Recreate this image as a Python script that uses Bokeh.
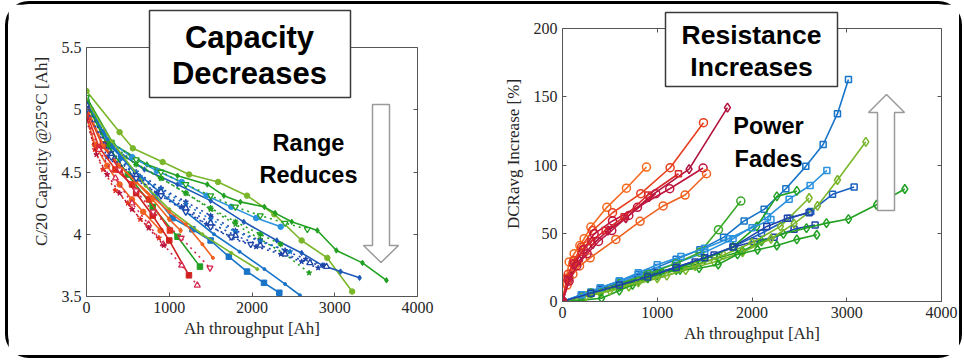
from bokeh.plotting import figure
from bokeh.models import (Range1d, FixedTicker, LinearAxis, CustomJSTickFormatter,
                          BoxAnnotation, PolyAnnotation, Label)
from bokeh.layouts import row
from bokeh.embed import file_html
from bokeh.resources import INLINE

# ---------------- data: capacity (left) ----------------
x_ticks = [0, 1000, 2000, 3000, 4000]
cap_ticks = [3.5, 4.0, 4.5, 5.0, 5.5]
dcr_ticks = [0, 50, 100, 150, 200]

cap01_x = [0, 400, 560, 920, 1240, 1590, 1940, 2270, 2600, 2910, 3210]
cap01_y = [5.15, 4.82, 4.69, 4.58, 4.48, 4.42, 4.31, 4.16, 3.95, 3.81, 3.54]
cap02_x = [0, 330, 730, 1100, 1460, 1660, 1860, 2150, 2280, 2480, 2790, 3020, 3335, 3625]
cap02_y = [5.10, 4.72, 4.56, 4.47, 4.40, 4.31, 4.26, 4.22, 4.17, 4.10, 4.03, 3.87, 3.77, 3.63]
cap03_x = [0, 300, 700, 1100, 1500, 1900, 2300, 2600, 2850, 3070, 3300]
cap03_y = [5.05, 4.70, 4.52, 4.40, 4.27, 4.10, 3.95, 3.85, 3.75, 3.70, 3.65]
cap04_x = [0, 300, 600, 900, 1200, 1500, 1800, 2100, 2400, 2690]
cap04_y = [5.05, 4.72, 4.57, 4.45, 4.33, 4.20, 4.08, 3.96, 3.84, 3.69]
cap05_x = [0, 250, 550, 850, 1150, 1450, 1750, 2050, 2347]
cap05_y = [5.08, 4.76, 4.62, 4.51, 4.42, 4.31, 4.22, 4.13, 4.06]
cap06_x = [0, 300, 600, 900, 1200, 1500, 1800, 2100, 2400, 2650, 2870]
cap06_y = [5.05, 4.66, 4.50, 4.37, 4.26, 4.15, 4.03, 3.95, 3.87, 3.80, 3.75]
cap07_x = [0, 250, 550, 850, 1150, 1450, 1750, 2050, 2350, 2600, 2800]
cap07_y = [5.02, 4.62, 4.46, 4.33, 4.22, 4.08, 3.97, 3.90, 3.84, 3.78, 3.73]
cap08_x = [0, 300, 600, 900, 1200, 1500, 1800, 2100, 2347]
cap08_y = [5.08, 4.70, 4.56, 4.45, 4.33, 4.21, 4.10, 4.00, 3.92]
cap09_x = [0, 300, 600, 900, 1200, 1500, 1800, 2100, 2400, 2669]
cap09_y = [5.10, 4.74, 4.60, 4.50, 4.40, 4.31, 4.22, 4.15, 4.09, 4.04]
cap10_x = [0, 300, 600, 900, 1200, 1500, 1800, 2100, 2460]
cap10_y = [5.05, 4.65, 4.48, 4.36, 4.24, 4.12, 4.02, 3.94, 3.86]
cap11_x = [0, 200, 420, 640, 830, 1040, 1280, 1500, 1720, 1940, 2145, 2330]
cap11_y = [5.05, 4.82, 4.62, 4.45, 4.30, 4.13, 4.04, 3.95, 3.82, 3.70, 3.61, 3.53]
cap12_x = [0, 300, 600, 900, 1200, 1540, 1850, 2150, 2400, 2580]
cap12_y = [5.05, 4.70, 4.50, 4.33, 4.18, 4.00, 3.86, 3.72, 3.60, 3.51]
cap13_x = [0, 300, 714, 1000, 1400, 1750, 2064]
cap13_y = [5.08, 4.75, 4.39, 4.20, 4.00, 3.85, 3.72]
cap14_x = [0, 250, 500, 800, 1100, 1371]
cap14_y = [5.05, 4.72, 4.48, 4.22, 3.98, 3.74]
cap15_x = [0, 200, 400, 600, 800, 1000, 1200, 1400, 1528]
cap15_y = [5.00, 4.70, 4.55, 4.42, 4.30, 4.18, 4.08, 3.92, 3.81]
cap16_x = [0, 100, 250, 400, 550, 685, 895]
cap16_y = [4.95, 4.72, 4.55, 4.40, 4.28, 4.18, 4.03]
cap17_x = [0, 150, 350, 550, 754, 1008]
cap17_y = [4.98, 4.70, 4.52, 4.40, 4.28, 4.03]
cap18_x = [0, 200, 400, 600, 800, 1000, 1238]
cap18_y = [5.00, 4.72, 4.52, 4.33, 4.15, 3.95, 3.67]
cap19_x = [0, 150, 350, 550, 750, 928, 1150, 1339]
cap19_y = [4.95, 4.68, 4.45, 4.25, 4.08, 3.92, 3.75, 3.59]
cap20_x = [0, 200, 400, 600, 806, 1145, 1492]
cap20_y = [5.00, 4.72, 4.52, 4.35, 4.18, 3.97, 3.73]
cap21_x = [0, 100, 200, 350, 500, 650, 875]
cap21_y = [4.95, 4.68, 4.52, 4.35, 4.25, 4.12, 3.97]
cap22_x = [0, 120, 250, 400, 550, 750, 935]
cap22_y = [4.92, 4.64, 4.48, 4.33, 4.20, 4.05, 3.91]
cap23_x = [0, 200, 400, 600, 800, 1000, 1137]
cap23_y = [5.02, 4.72, 4.55, 4.42, 4.28, 4.12, 4.03]
cap24_x = [0, 300, 600, 900, 1200, 1500, 1800, 2100, 2400, 2700, 2900]
cap24_y = [5.04, 4.64, 4.47, 4.34, 4.21, 4.09, 3.99, 3.91, 3.84, 3.77, 3.74]
cap25_x = [0, 300, 600, 900, 1200, 1500, 1750, 1985]
cap25_y = [5.00, 4.62, 4.45, 4.31, 4.18, 4.06, 3.98, 3.92]

# ---------------- data: resistance (right) ----------------
dcr01_x = [0, 42, 70, 123, 183, 228, 299, 468, 675, 886]
dcr01_y = [0, 17, 29, 35, 41, 46, 54.5, 69, 83, 98.5]
dcr02_x = [0, 60, 120, 200, 317, 528, 826, 1136, 1488]
dcr02_y = [0, 20, 30, 40, 52, 65, 79, 98, 131]
dcr03_x = [0, 80, 180, 320, 480, 668, 914, 1336, 1741]
dcr03_y = [0, 18, 30, 42, 52, 61, 76.5, 97, 142]
dcr04_x = [0, 60, 130, 220, 334, 528, 791, 1132, 1484]
dcr04_y = [0, 16, 28, 38, 49.6, 59, 69, 82.6, 97.8]
dcr05_x = [0, 50, 110, 180, 292, 563, 819, 1062, 1294, 1520]
dcr05_y = [0, 12, 20, 26, 32, 45.5, 58.7, 70, 78, 93.6]
dcr06_x = [0, 50, 110, 200, 300, 450, 650, 900, 1224]
dcr06_y = [0, 17, 28, 36, 44, 52, 62, 78, 93.6]
dcr07_x = [0, 70, 150, 260, 380, 520, 700, 985]
dcr07_y = [0, 15, 26, 35, 44, 52, 63, 79]
dcr08_x = [0, 200, 400, 600, 800, 1000, 1200, 1450, 1700, 1917, 2128, 2357, 2568, 2751, 2902, 3018]
dcr08_y = [0, 5, 10, 15, 20, 25, 31, 38, 47, 59, 67.5, 82.6, 99, 115, 137.6, 162.6]
dcr09_x = [0, 300, 600, 900, 1200, 1500, 1800, 2164, 2392, 2613, 2790]
dcr09_y = [0, 7, 14, 21, 28, 36, 46, 62, 75, 85, 96]
dcr10_x = [0, 300, 600, 900, 1200, 1500, 1800, 2100, 2400, 2620, 2850, 3078]
dcr10_y = [0, 6, 12, 19, 25, 32, 40, 50, 61, 66, 78.5, 83.8]
dcr11_x = [0, 200, 400, 600, 800, 1000, 1200, 1400, 1600, 1811, 2022, 2233, 2444, 2666]
dcr11_y = [0, 4, 9, 13, 17, 21, 25, 29, 34, 40, 44, 47, 53, 56]
dcr12_x = [0, 200, 400, 600, 800, 1000, 1200, 1400, 1650, 1900, 2100, 2332, 2575, 2786, 3018, 3314, 3613]
dcr12_y = [0, 3, 7, 11, 15, 19, 23, 27, 32, 37, 44, 49.6, 53.8, 57.4, 60.4, 70.9, 82.4]
dcr13_x = [0, 200, 400, 700, 1000, 1300, 1600, 1900, 2200, 2444, 2691, 2902, 3201]
dcr13_y = [0, 3, 6, 11, 17, 23, 29, 36, 46, 57, 70, 89, 117]
dcr14_x = [0, 200, 412, 600, 739, 900, 1057, 1241, 1442, 1643, 1847, 2058, 2262, 2473, 2684]
dcr14_y = [0, 1, 2.4, 8, 12.2, 17, 21, 23.2, 24.4, 27.1, 34.5, 37.9, 41, 45.5, 48.9]
dcr15_x = [0, 300, 600, 900, 1200, 1500, 1800, 2050, 2262, 2473]
dcr15_y = [0, 6, 12, 18, 24, 31, 40, 55, 77, 81]
dcr16_x = [0, 300, 600, 900, 1200, 1450, 1646, 1882]
dcr16_y = [0, 6, 13, 20, 28, 36, 52.6, 73.6]
dcr17_x = [0, 250, 500, 800, 1100, 1400, 1700, 2000, 2300, 2603]
dcr17_y = [0, 4, 8, 14, 19, 26, 34, 43, 55, 75.8]
dcr18_x = [0, 200, 400, 600, 800, 1000, 1250, 1500, 1750, 2000, 2200]
dcr18_y = [0, 5, 10, 15, 21, 27, 33, 39, 46, 54, 60]
dcr19_x = [0, 300, 600, 900, 1200, 1500, 1800, 2156, 2374, 2603]
dcr19_y = [0, 6, 12, 18, 25, 32, 40, 55, 61, 65]

# ---------------- styles ----------------
LG, DG = "#7AB62A", "#22A022"
BL, LB, DB = "#1874C8", "#2A92DE", "#1E44A8"
OR, RD, CR, PK = "#F0621E", "#E2321E", "#B8143C", "#D42A52"

cap_series = [
    (cap01_x, cap01_y, LG, "circle", "solid"),
    (cap02_x, cap02_y, DG, "diamond", "solid"),
    (cap03_x, cap03_y, "#1E5AB8", "diamond", "solid"),
    (cap04_x, cap04_y, DG, "star", "dotted"),
    (cap05_x, cap05_y, LB, "circle", "solid"),
    (cap06_x, cap06_y, DB, "star", "dotted"),
    (cap07_x, cap07_y, DB, "star", "dotted"),
    (cap08_x, cap08_y, DG, "asterisk", "dotted"),
    (cap09_x, cap09_y, DG, "inverted_triangle", "dotted"),
    (cap10_x, cap10_y, BL, "star", "dotted"),
    (cap11_x, cap11_y, BL, "square", "solid"),
    (cap12_x, cap12_y, BL, "dot", "solid"),
    (cap13_x, cap13_y, LG, "dot", "solid"),
    (cap14_x, cap14_y, DG, "square", "solid"),
    (cap15_x, cap15_y, OR, "dot", "solid"),
    (cap16_x, cap16_y, OR, "circle", "solid"),
    (cap17_x, cap17_y, RD, "square", "solid"),
    (cap18_x, cap18_y, "#D0201E", "square", "solid"),
    (cap19_x, cap19_y, PK, "triangle", "dotted"),
    (cap20_x, cap20_y, PK, "inverted_triangle", "dotted"),
    (cap21_x, cap21_y, RD, "star", "dotted"),
    (cap22_x, cap22_y, CR, "star", "dotted"),
    (cap23_x, cap23_y, OR, "diamond", "solid"),
    (cap24_x, cap24_y, DB, "triangle", "dotted"),
    (cap25_x, cap25_y, DB, "inverted_triangle", "dotted"),
]

dcr_series = [
    (dcr08_x, dcr08_y, BL, "square"),
    (dcr09_x, dcr09_y, LB, "square"),
    (dcr10_x, dcr10_y, "#1A60C0", "square"),
    (dcr11_x, dcr11_y, DB, "square"),
    (dcr12_x, dcr12_y, DG, "diamond"),
    (dcr13_x, dcr13_y, LG, "diamond"),
    (dcr14_x, dcr14_y, DG, "diamond"),
    (dcr15_x, dcr15_y, DG, "diamond"),
    (dcr16_x, dcr16_y, "#3AA82A", "circle"),
    (dcr17_x, dcr17_y, LG, "diamond"),
    (dcr18_x, dcr18_y, LB, "square"),
    (dcr19_x, dcr19_y, DB, "square"),
    (dcr01_x, dcr01_y, "#F46A1E", "circle"),
    (dcr02_x, dcr02_y, "#E8401E", "circle"),
    (dcr03_x, dcr03_y, "#B0103A", "diamond"),
    (dcr04_x, dcr04_y, "#C0143C", "circle"),
    (dcr05_x, dcr05_y, "#F0601E", "circle"),
    (dcr06_x, dcr06_y, "#D8282A", "square"),
    (dcr07_x, dcr07_y, "#C01840", "circle"),
]

SERIF = "Liberation Serif"
SANS = "Liberation Sans"
AXC = "#262626"
BOXC = "#555555"


def style(p, xt, yt, ybounds, xlabel, ylabel):
    p.outline_line_color = None
    p.xgrid.visible = False
    p.ygrid.visible = False
    fmt = CustomJSTickFormatter(code="return tick.toString();")
    blank = CustomJSTickFormatter(code="return '';")
    for ax in (p.xaxis[0], p.yaxis[0]):
        ax.major_label_text_font = SERIF
        ax.major_label_text_font_size = "16px"
        ax.major_label_text_color = AXC
        ax.axis_label_text_font = SERIF
        ax.axis_label_text_font_size = "17px"
        ax.axis_label_text_font_style = "normal"
        ax.axis_label_text_color = AXC
        ax.axis_line_color = BOXC
        ax.major_tick_line_color = BOXC
        ax.major_tick_in = 4
        ax.major_tick_out = 0
        ax.minor_tick_line_color = None
        ax.formatter = fmt
    p.xaxis[0].ticker = FixedTicker(ticks=xt)
    p.yaxis[0].ticker = FixedTicker(ticks=yt)
    p.yaxis[0].bounds = ybounds
    p.xaxis[0].axis_label = xlabel
    p.yaxis[0].axis_label = ylabel
    p.xaxis[0].major_label_standoff = 5
    p.yaxis[0].major_label_standoff = 5
    p.xaxis[0].axis_label_standoff = 3
    p.yaxis[0].axis_label_standoff = 8
    top = LinearAxis(ticker=FixedTicker(ticks=xt), formatter=blank,
                     major_label_text_font_size="1px", major_label_standoff=0,
                     axis_line_color=BOXC, major_tick_line_color=BOXC, major_tick_in=4,
                     major_tick_out=0, minor_tick_line_color=None, fixed_location=ybounds[1])
    p.add_layout(top, "above")
    right = LinearAxis(ticker=FixedTicker(ticks=yt), formatter=blank,
                       major_label_text_font_size="1px", major_label_standoff=0,
                       axis_line_color=BOXC, bounds=ybounds, major_tick_line_color=BOXC,
                       major_tick_in=4, major_tick_out=0, minor_tick_line_color=None)
    p.add_layout(right, "right")


# ---------------- left figure ----------------
# figure pixel geometry (figure top-left at page (8, 4))
L_LEFT, L_W, L_TOP, L_BOX_TOP, L_BOT = 78, 331, 2, 43, 292
cap_lo, cap_hi = 3.5, 5.5
cap_top = cap_hi + (L_BOX_TOP - L_TOP) * (cap_hi - cap_lo) / (L_BOT - L_BOX_TOP)

p1 = figure(frame_width=L_W, frame_height=L_BOT - L_TOP, min_border_left=L_LEFT,
            min_border_right=63, min_border_top=L_TOP, min_border_bottom=59,
            x_range=Range1d(0, 4000), y_range=Range1d(cap_lo, cap_top),
            output_backend="svg", toolbar_location=None,
            background_fill_color="white", border_fill_color="white")
p1.frame_align = False
style(p1, x_ticks, cap_ticks, (cap_lo, cap_hi), "Ah throughput [Ah]", "C/20 Capacity @25°C [Ah]")

for xs, ys, c, m, d in cap_series:
    p1.line(xs, ys, line_color=c, line_width=1.6, line_dash=d)
    if m == "dot":
        p1.scatter(xs, ys, marker="circle", size=3, color=c)
    elif m == "asterisk":
        p1.scatter(xs, ys, marker=m, size=6, line_color=c, line_width=1.3)
    elif m in ("triangle", "inverted_triangle") and d == "dotted":
        p1.scatter(xs, ys, marker=m, size=6, line_color=c, fill_color="white", line_width=1.3)
    else:
        p1.scatter(xs, ys, marker=m, size=5.5, color=c)


def lx(px):
    return (px - L_LEFT) / L_W * 4000


def ly(py):
    return cap_top - (py - L_TOP) / (L_BOT - L_TOP) * (cap_top - cap_lo)


p1.add_layout(BoxAnnotation(left=lx(141), right=lx(342), top=ly(6), bottom=ly(93),
                            fill_color="white", fill_alpha=1, line_color="#3a3a3a",
                            line_alpha=1, line_width=1.5, level="annotation"))
for t, yy in (("Capacity", 33), ("Decreases", 69)):
    p1.add_layout(Label(x=lx(241), y=ly(yy), text=t, text_font=SANS, text_font_style="bold",
                        text_font_size="31px", text_align="center", text_baseline="middle",
                        text_color="black"))
for t, yy in (("Range", 138), ("Reduces", 170)):
    p1.add_layout(Label(x=lx(300), y=ly(yy), text=t, text_font=SANS, text_font_style="bold",
                        text_font_size="23.5px", text_align="center", text_baseline="middle",
                        text_color="black"))
arrow_px = [364, 381, 381, 390, 372.5, 355, 364]
arrow_py = [100, 100, 241, 241, 258, 241, 241]
p1.add_layout(PolyAnnotation(xs=[lx(v) for v in arrow_px], ys=[ly(v) for v in arrow_py],
                             fill_color="white", fill_alpha=1, line_color="#9a9a9a",
                             line_alpha=1, line_width=1.5))

# ---------------- right figure ----------------
R_LEFT, R_W, R_TOP, R_BOX_TOP, R_BOT = 82, 379, 2, 24, 297
dcr_lo, dcr_hi = 0, 200
dcr_top = dcr_hi + (R_BOX_TOP - R_TOP) * (dcr_hi - dcr_lo) / (R_BOT - R_BOX_TOP)

p2 = figure(frame_width=R_W, frame_height=R_BOT - R_TOP, min_border_left=R_LEFT,
            min_border_right=18, min_border_top=R_TOP, min_border_bottom=54,
            x_range=Range1d(0, 4000), y_range=Range1d(dcr_lo, dcr_top),
            output_backend="svg", toolbar_location=None,
            background_fill_color="white", border_fill_color="white")
p2.frame_align = False
style(p2, x_ticks, dcr_ticks, (dcr_lo, dcr_hi), "Ah throughput [Ah]", "DCRavg Increase [%]")

for xs, ys, c, m in dcr_series:
    p2.line(xs, ys, line_color=c, line_width=1.6)
    sz = {"circle": 8, "square": 6, "diamond": 9}[m]
    p2.scatter(xs, ys, marker=m, size=sz, line_color=c, fill_color=None, line_width=1.5)


def rx(px):
    return (px - R_LEFT) / R_W * 4000


def ry(py):
    return dcr_top - (py - R_TOP) / (R_BOT - R_TOP) * (dcr_top - dcr_lo)


p2.add_layout(BoxAnnotation(left=rx(185), right=rx(357), top=ry(8), bottom=ry(82),
                            fill_color="white", fill_alpha=1, line_color="#3a3a3a",
                            line_alpha=1, line_width=1.5, level="annotation"))
for t, yy in (("Resistance", 30), ("Increases", 62)):
    p2.add_layout(Label(x=rx(271), y=ry(yy), text=t, text_font=SANS, text_font_style="bold",
                        text_font_size="26.5px", text_align="center", text_baseline="middle",
                        text_color="black"))
for t, yy in (("Power", 121), ("Fades", 154)):
    p2.add_layout(Label(x=rx(288), y=ry(yy), text=t, text_font=SANS, text_font_style="bold",
                        text_font_size="23.5px", text_align="center", text_baseline="middle",
                        text_color="black"))
up_px = [397, 414, 414, 424, 406, 388, 397]
up_py = [206, 206, 108, 108, 90, 108, 108]
p2.add_layout(PolyAnnotation(xs=[rx(v) for v in up_px], ys=[ry(v) for v in up_py],
                             fill_color="white", fill_alpha=1, line_color="#9a9a9a",
                             line_alpha=1, line_width=1.5))

layout = row(p1, p2, styles={"border": "3px solid black", "border-radius": "24px",
                             "margin-left": "5px", "margin-top": "1px",
                             "background-color": "white"})

open("out.html", "w").write(file_html(layout, INLINE))
